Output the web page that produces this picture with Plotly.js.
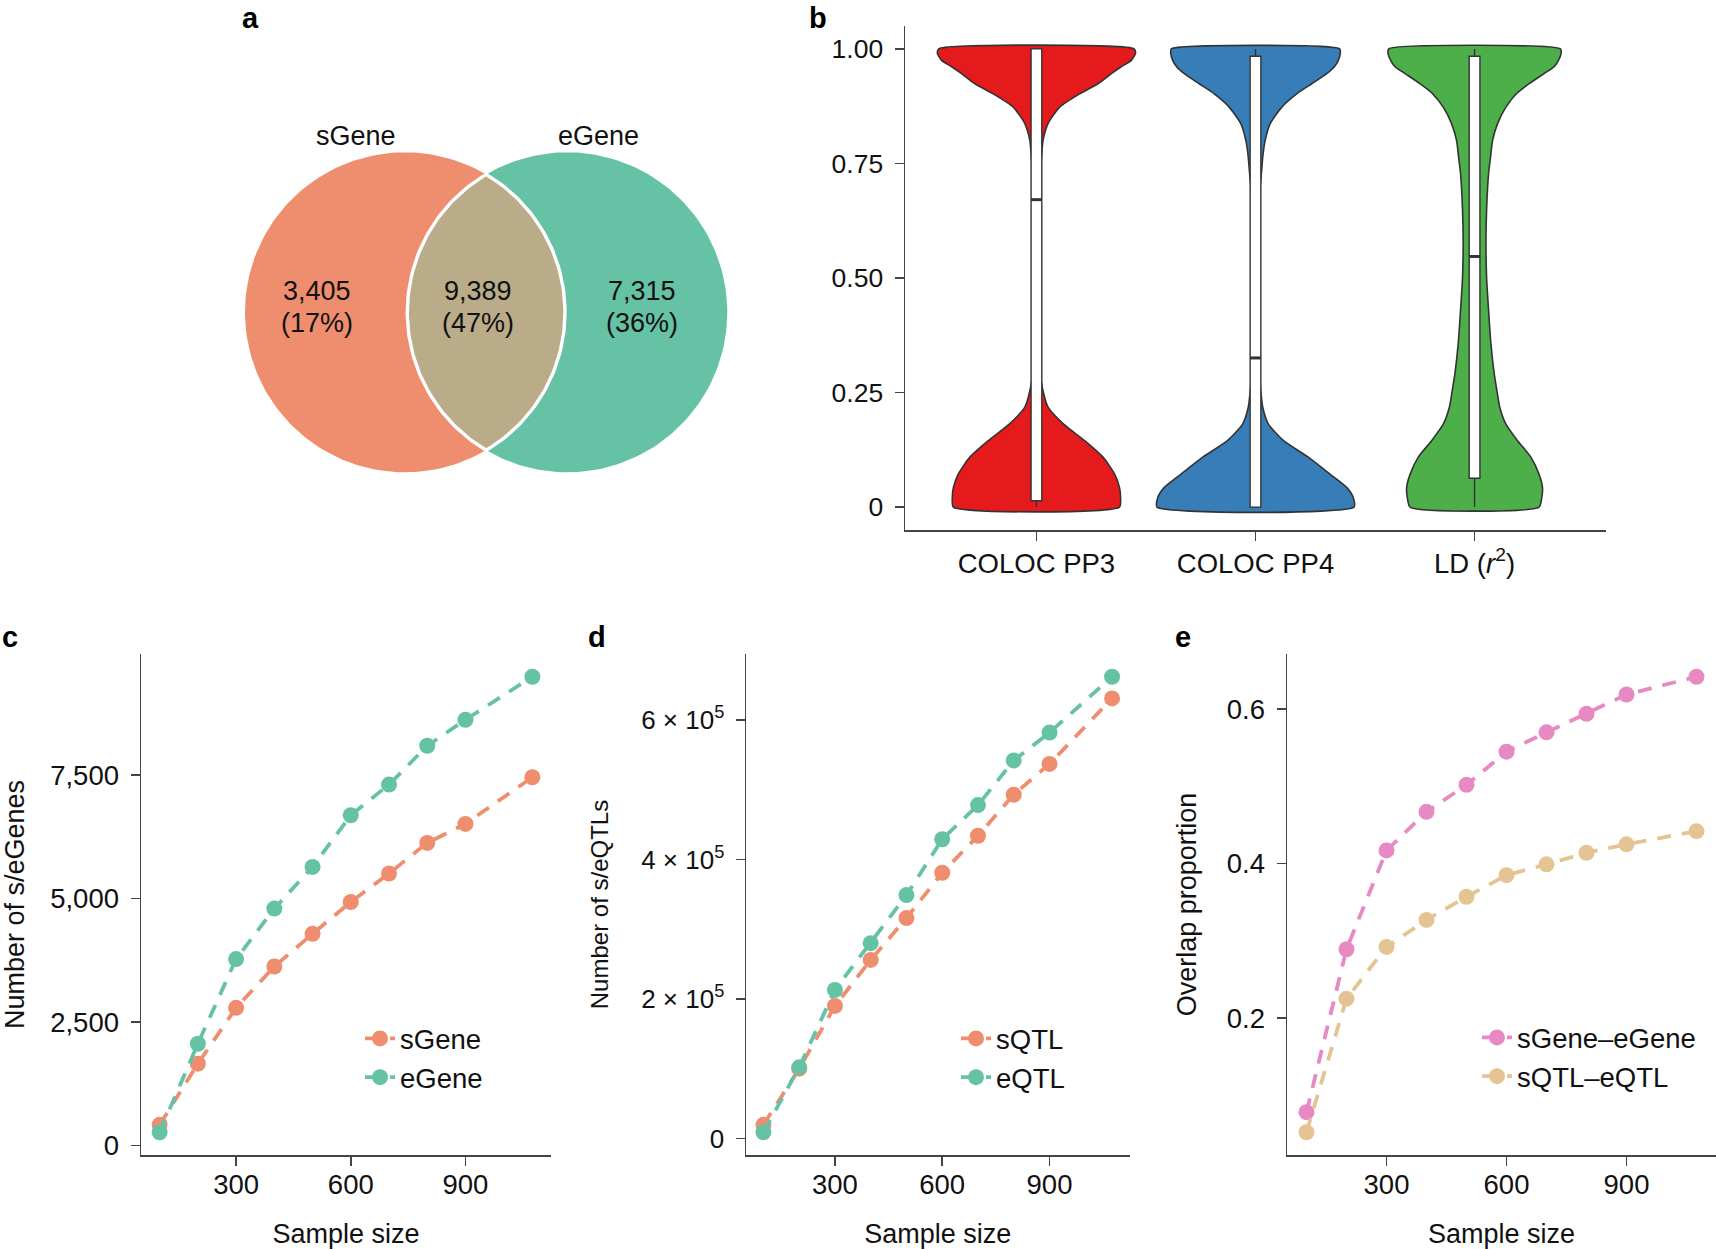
<!DOCTYPE html>
<html><head><meta charset="utf-8">
<script src="https://cdn.plot.ly/plotly-3.0.1.min.js"></script>
<style>html,body{margin:0;padding:0;background:#fff;}#chart{width:1716px;height:1249px;}</style>
</head><body><div id="chart"></div>
<script>
// ---------------- data ----------------
// a: Venn
const vennSetNames = ['sGene', 'eGene'];
const vennCounts = [3405, 9389, 7315]; // sGene only, shared, eGene only

// b: violins (half-width profiles, in category units)
const violinCategories = ['COLOC PP3', 'COLOC PP4', 'LD (<i>r</i><sup>2</sup>)'];
const violinGrid = [0, 0.021, 0.043, 0.072, 0.109, 0.145, 0.181, 0.218, 0.254, 0.29, 0.36, 0.43, 0.5, 0.58, 0.65, 0.728, 0.764, 0.8, 0.837, 0.873, 0.902, 0.924, 0.946, 0.961, 0.975, 0.99, 1.0];
const densityPP3 = [0.379, 0.384, 0.379, 0.357, 0.304, 0.220, 0.124, 0.053, 0.030, 0.018, 0.008, 0.005, 0.003, 0.005, 0.009, 0.018, 0.023, 0.030, 0.053, 0.106, 0.197, 0.281, 0.342, 0.387, 0.433, 0.452, 0.446];
const densityPP4 = [0.449, 0.446, 0.416, 0.340, 0.241, 0.128, 0.059, 0.033, 0.024, 0.018, 0.012, 0.009, 0.008, 0.009, 0.012, 0.027, 0.033, 0.044, 0.067, 0.120, 0.188, 0.257, 0.325, 0.360, 0.378, 0.387, 0.384];
const densityLD  = [0.294, 0.307, 0.310, 0.294, 0.257, 0.196, 0.143, 0.115, 0.102, 0.090, 0.074, 0.064, 0.055, 0.052, 0.055, 0.064, 0.073, 0.082, 0.105, 0.143, 0.191, 0.249, 0.317, 0.363, 0.383, 0.395, 0.392];
const boxQ1 = [0.014, 0.0, 0.063];
const boxMedian = [0.671, 0.3255, 0.547];
const boxQ3 = [1.0, 0.984, 0.984];
const boxLower = [0.0, 0.0, 0.0];
const boxUpper = [1.0, 1.0, 1.0];

// c, d, e: subsampling curves
const sampleSize = [100, 200, 300, 400, 500, 600, 700, 800, 900, 1075];
const sGeneCount = [418, 1657, 2787, 3624, 4285, 4930, 5507, 6127, 6512, 7457];
const eGeneCount = [268, 2059, 3775, 4796, 5641, 6687, 7307, 8094, 8621, 9491];
const sQTLCount = [19500, 100000, 190000, 256000, 316000, 381000, 434000, 493000, 537000, 631000];
const eQTLCount = [8900, 102000, 213000, 280000, 349000, 429000, 478000, 542000, 582000, 662000];
const overlapGene = [0.078, 0.289, 0.417, 0.467, 0.502, 0.545, 0.570, 0.594, 0.619, 0.642];
const overlapQTL = [0.052, 0.225, 0.292, 0.327, 0.357, 0.385, 0.399, 0.414, 0.425, 0.442];

// ---------------- style / layout helpers ----------------
const W = 1716, H = 1249;
const FONT = 'Liberation Sans, Arial, Helvetica, sans-serif';
const SAL = '#EF8E6E', TEAL = '#66C2A5', PINK = '#E78AC3', TAN = '#E5C494';
const VCOL = ['#E41A1C', '#377EB8', '#4DAF4A'];
const TXT = '#111';
const dom = (a, b) => [a / W, b / W];
const ydom = (top, bottom) => [1 - bottom / H, 1 - top / H];
function expand(arrs, f) {
  const all = [].concat(...arrs);
  const lo = Math.min(...all), hi = Math.max(...all), d = (hi - lo) * (f || 0.05);
  return [lo - d, hi + d];
}
function axis(extra) {
  return Object.assign({
    showline: true, linecolor: '#444', linewidth: 1.5, mirror: false,
    ticks: 'outside', ticklen: 9, tickwidth: 1.5, tickcolor: '#444',
    showgrid: false, zeroline: false, fixedrange: true,
    tickfont: {family: FONT, size: 27.5, color: TXT},
    ticklabelstandoff: 6
  }, extra);
}
const fmt = n => n.toLocaleString('en-US');

const traces = [];

// ---------- a: Venn ----------
const V = {cxL: 405, cxR: 567.3, cy: 312.3, r: 160};
function circlePts(cx, cy, r, a0, a1, n) {
  const xs = [], ys = [];
  for (let i = 0; i <= n; i++) {
    const a = a0 + (a1 - a0) * i / n;
    xs.push(cx + r * Math.cos(a)); ys.push(cy + r * Math.sin(a));
  }
  return [xs, ys];
}
let c1 = circlePts(V.cxL, V.cy, V.r, 0, 2 * Math.PI, 200);
let c2 = circlePts(V.cxR, V.cy, V.r, 0, 2 * Math.PI, 200);
traces.push({x: c1[0], y: c1[1], mode: 'lines', fill: 'toself', fillcolor: SAL, line: {width: 0, color: SAL}, xaxis: 'x', yaxis: 'y', showlegend: false, hoverinfo: 'skip'});
traces.push({x: c2[0], y: c2[1], mode: 'lines', fill: 'toself', fillcolor: TEAL, line: {width: 0, color: TEAL}, xaxis: 'x', yaxis: 'y', showlegend: false, hoverinfo: 'skip'});
const half = (V.cxR - V.cxL) / 2;
const th = Math.acos(half / V.r);
const arcL = circlePts(V.cxL, V.cy, V.r, -th, th, 80);
const arcR = circlePts(V.cxR, V.cy, V.r, Math.PI - th, Math.PI + th, 80);
traces.push({x: arcL[0].concat(arcR[0]), y: arcL[1].concat(arcR[1]), mode: 'lines', fill: 'toself', fillcolor: '#BAAC89', line: {width: 3.4, color: '#fff'}, xaxis: 'x', yaxis: 'y', showlegend: false, hoverinfo: 'skip'});

const total = vennCounts.reduce((a, b) => a + b, 0);
const vennTextX = [316.7, 478, 642];
const annotations = [];
const vFont = {family: FONT, size: 27, color: TXT};
vennCounts.forEach((c, i) => {
  annotations.push({xref: 'x', yref: 'y', x: vennTextX[i], y: V.cy - 21, text: fmt(c), showarrow: false, font: vFont});
  annotations.push({xref: 'x', yref: 'y', x: vennTextX[i], y: V.cy + 10.5, text: '(' + Math.round(100 * c / total) + '%)', showarrow: false, font: vFont});
});
[356, 598].forEach((x, i) => annotations.push({xref: 'x', yref: 'y', x: x, y: 136, text: vennSetNames[i], showarrow: false, font: vFont}));

// ---------- b: violins ----------
[densityPP3, densityPP4, densityLD].forEach((dens, i) => {
  const c = i + 1;
  const xs = [], ys = [];
  violinGrid.forEach((v, k) => { xs.push(c + dens[k]); ys.push(v); });
  for (let k = violinGrid.length - 1; k >= 0; k--) { xs.push(c - dens[k]); ys.push(violinGrid[k]); }
  xs.push(xs[0]); ys.push(ys[0]);
  traces.push({x: xs, y: ys, mode: 'lines', fill: 'toself', fillcolor: VCOL[i], line: {color: '#333', width: 1.6, shape: 'spline', smoothing: 0.6}, xaxis: 'x2', yaxis: 'y2', showlegend: false, hoverinfo: 'skip'});
});
// boxes live on an overlaying subplot so they are drawn above the violin fills
traces.push({type: 'box', orientation: 'v', x: [1, 2, 3], q1: boxQ1, median: boxMedian, q3: boxQ3, lowerfence: boxLower, upperfence: boxUpper,
  width: 0.049, whiskerwidth: 0, fillcolor: '#fff', line: {color: '#333', width: 1.4}, boxpoints: false,
  xaxis: 'x6', yaxis: 'y6', showlegend: false, hoverinfo: 'skip'});
const mx = [], my = [];
boxMedian.forEach((m, i) => { mx.push(i + 1 - 0.0245, i + 1 + 0.0245, null); my.push(m, m, null); });
traces.push({x: mx, y: my, mode: 'lines', line: {color: '#333', width: 3}, xaxis: 'x6', yaxis: 'y6', showlegend: false, hoverinfo: 'skip'});

// ---------- c, d, e: curves ----------
function curve(y, name, color, ax, leg) {
  return {x: sampleSize, y: y, name: name, mode: 'lines+markers',
    line: {color: color, width: 3.8, dash: '14px,11px'}, marker: {color: color, size: 16},
    xaxis: 'x' + ax, yaxis: 'y' + ax, legend: leg, hoverinfo: 'skip'};
}
traces.push(curve(sGeneCount, 'sGene', SAL, 3, 'legend'));
traces.push(curve(eGeneCount, 'eGene', TEAL, 3, 'legend'));
traces.push(curve(sQTLCount, 'sQTL', SAL, 4, 'legend2'));
traces.push(curve(eQTLCount, 'eQTL', TEAL, 4, 'legend2'));
traces.push(curve(overlapGene, 'sGene–eGene', PINK, 5, 'legend3'));
traces.push(curve(overlapQTL, 'sQTL–eQTL', TAN, 5, 'legend3'));

// panel letters
[['a', 250, 0, 'center'], ['b', 818, 0, 'center'], ['c', 0, 619, 'left'], ['d', 596.5, 619, 'center'], ['e', 1182.5, 619, 'center']].forEach(p => {
  annotations.push({xref: 'paper', yref: 'paper', x: p[1] / W, y: 1 - p[2] / H, xanchor: p[3], yanchor: 'top',
    text: '<b>' + p[0] + '</b>', showarrow: false, font: {family: FONT, size: 29, color: '#000'}});
});

const xr = expand([sampleSize]);
const titleFont = {family: FONT, size: 27, color: TXT};
function legend(xPx, yPx) {
  return {x: xPx / W, y: 1 - yPx / H, xanchor: 'left', yanchor: 'top', bgcolor: 'rgba(0,0,0,0)',
    font: {family: FONT, size: 27.5, color: TXT}, tracegroupgap: 0, itemwidth: 30, borderwidth: 0};
}

const layout = {
  width: W, height: H, margin: {l: 0, r: 0, t: 0, b: 0},
  paper_bgcolor: '#fff', plot_bgcolor: 'rgba(0,0,0,0)', font: {family: FONT, color: TXT},
  showlegend: true,
  xaxis: {domain: dom(200, 800), range: [200, 800], visible: false, fixedrange: true},
  yaxis: {domain: ydom(100, 520), range: [520, 100], visible: false, fixedrange: true},
  xaxis2: axis({domain: dom(905, 1606), anchor: 'y2', range: [0.4, 3.6], tickvals: [1, 2, 3], ticktext: violinCategories, ticklabelstandoff: -1}),
  yaxis2: axis({domain: ydom(26, 530), anchor: 'x2', range: [-0.05, 1.05], tickvals: [0, 0.25, 0.5, 0.75, 1], ticktext: ['0', '0.25', '0.50', '0.75', '1.00'],
    tickfont: {family: FONT, size: 26.5, color: TXT}}),
  xaxis6: {overlaying: 'x2', anchor: 'y6', range: [0.4, 3.6], visible: false, fixedrange: true},
  yaxis6: {overlaying: 'y2', anchor: 'x6', range: [-0.05, 1.05], visible: false, fixedrange: true},
  xaxis3: axis({domain: dom(141, 551), anchor: 'y3', range: xr, tickvals: [300, 600, 900], ticklabelstandoff: -5, title: {text: 'Sample size', font: titleFont, standoff: 32}}),
  yaxis3: axis({domain: ydom(654, 1155), anchor: 'x3', range: expand([sGeneCount, eGeneCount]), tickvals: [0, 2500, 5000, 7500], tickformat: ',d', title: {text: 'Number of s/eGenes', font: titleFont, standoff: 24}}),
  xaxis4: axis({domain: dom(746, 1129.5), anchor: 'y4', range: xr, tickvals: [300, 600, 900], ticklabelstandoff: -5, title: {text: 'Sample size', font: titleFont, standoff: 32}}),
  yaxis4: axis({domain: ydom(654, 1155), anchor: 'x4', range: expand([sQTLCount, eQTLCount]), tickvals: [0, 2e5, 4e5, 6e5],
    ticktext: ['0', '2 × 10<sup>5</sup>', '4 × 10<sup>5</sup>', '6 × 10<sup>5</sup>'], tickfont: {family: FONT, size: 26, color: TXT},
    title: {text: 'Number of s/eQTLs', font: {family: FONT, size: 24, color: TXT}, standoff: 26}}),
  xaxis5: axis({domain: dom(1287, 1716), anchor: 'y5', range: xr, tickvals: [300, 600, 900], ticklabelstandoff: -5, title: {text: 'Sample size', font: titleFont, standoff: 32}}),
  yaxis5: axis({domain: ydom(654, 1155), anchor: 'x5', range: expand([overlapGene, overlapQTL]), tickvals: [0.2, 0.4, 0.6], title: {text: 'Overlap proportion', font: titleFont, standoff: 22}}),
  legend: legend(360, 1014),
  legend2: legend(956, 1014),
  legend3: legend(1477, 1013),
  annotations: annotations
};

Plotly.newPlot('chart', traces, layout, {staticPlot: true, displayModeBar: false});
</script>
</body></html>
